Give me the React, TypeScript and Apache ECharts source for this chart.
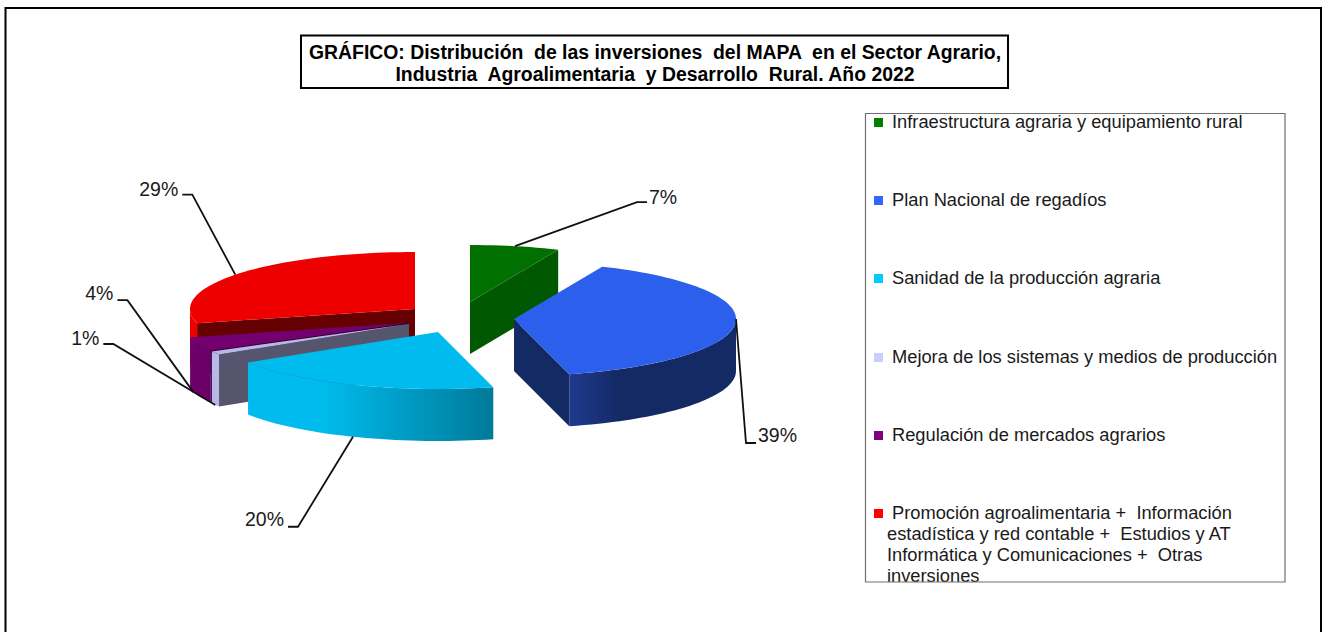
import React, { useEffect, useRef } from "react";
import * as echarts from "echarts";

const FONT = "'Liberation Sans', Arial, sans-serif";

const categories = [
  "Infraestructura agraria y equipamiento rural",
  "Plan Nacional de regadíos",
  "Sanidad de la producción agraria",
  "Mejora de los sistemas y medios de producción",
  "Regulación de mercados agrarios",
  "Promoción agroalimentaria +  Información\nestadística y red contable +  Estudios y AT\nInformática y Comunicaciones +  Otras\ninversiones",
];
const values = [6.5, 39.49, 20, 1, 4, 29];
const titleLines = [
  "GRÁFICO: Distribución  de las inversiones  del MAPA  en el Sector Agrario,",
  "Industria  Agroalimentaria  y Desarrollo  Rural. Año 2022",
];

const topColors = ["#007000", "#2c5fec", "#00bcee", "#b8b8e8", "#740070", "#ee0000"];
const legendColors = ["#008000", "#3366ff", "#00ccff", "#ccccff", "#800080", "#ff0000"];
const radialColors = ["#005800", "#142a64", "#0090b0", "#55556e", "#2a0038", "#660000"];
const sideLight = ["#005800", "#1e3a8e", "#00bcee", "#b8b8e8", "#700070", "#ee0000"];
const sideDark = ["#005800", "#142a64", "#007a9a", "#b8b8e8", "#6a0068", "#ee0000"];
const sideStops = [0.5, 0.3, 0.3, 0.5, 0.5, 0.5];

// pie geometry: centre of the pie, ellipse radii, thickness, explosion of each slice
const CX = 440;
const CY = 315;
const RX_RIGHT = 222;
const RX_LEFT = 225;
const RY = 57;
const DEPTH = 52;
const explode = [
  [30, -13],
  [74, 4],
  [-2, 17],
  [-31, 9],
  [-32, 8],
  [-25, -6],
];
// where each leader leaves the slice (degrees) and where it bends (relative to that point)
const leaderAngle = [11.7, 90, 202.2, 239.4, 252.5, 307];
const leaderDrop = [0, 0, DEPTH, DEPTH, DEPTH, 0];
const leaderBend = [
  [122, -44],
  [10, 124],
  [-55, 90],
  [-102, -61],
  [-66, -92],
  [-43, -80],
];
const leaderDir = [1, 1, -1, -1, -1, -1];
const labelLift = [5, 8, 8, 6, 7, 6];

const rad = (d: number) => (d * Math.PI) / 180;
const rim = (ax: number, ay: number, deg: number): number[] => {
  const s = Math.sin(rad(deg));
  return [ax + (s > 0 ? RX_RIGHT : RX_LEFT) * s, ay - RY * Math.cos(rad(deg))];
};
const arcPts = (ax: number, ay: number, a: number, b: number): number[][] => {
  const n = Math.max(2, Math.ceil(Math.abs(b - a) / 2));
  const out: number[][] = [];
  for (let i = 0; i <= n; i++) out.push(rim(ax, ay, a + ((b - a) * i) / n));
  return out;
};

export default function App() {
  const ref = useRef<HTMLDivElement>(null);
  useEffect(() => {
    const chart = echarts.init(ref.current!, undefined, { renderer: "svg" });
    const total = values.reduce((s, v) => s + v, 0);
    const starts: number[] = [];
    let acc = 0;
    values.forEach((v) => {
      starts.push((acc / total) * 360);
      acc += v;
    });
    const order = [0, 1, 5, 4, 3, 2];

    const renderItem = (_params: any, api: any) => {
      const i = order[api.value(0)];
      const a0 = starts[i];
      const a1 = a0 + (values[i] / total) * 360;
      const ax = CX + explode[i][0];
      const ay = CY + explode[i][1];
      const children: any[] = [];
      const poly = (points: number[][], fill: any) =>
        children.push({ type: "polygon", shape: { points }, style: { fill, stroke: "none" }, silent: true });
      const radial = (deg: number) => {
        const p = rim(ax, ay, deg);
        poly([[ax, ay], p, [p[0], p[1] + DEPTH], [ax, ay + DEPTH]], radialColors[i]);
      };
      if (Math.sin(rad(a0)) < -1e-6) radial(a0);
      if (Math.sin(rad(a1)) > 1e-6 && a1 < 359.9) radial(a1);
      const f0 = Math.max(a0, 90);
      const f1 = Math.min(a1, 270);
      if (f1 > f0) {
        const top = arcPts(ax, ay, f0, f1);
        const bot = top.map((p) => [p[0], p[1] + DEPTH]).reverse();
        const fill = new echarts.graphic.LinearGradient(
          0, 0, 1, 0,
          i === 2
            ? [
                { offset: 0, color: sideLight[i] },
                { offset: sideStops[i], color: sideLight[i] },
                { offset: 1, color: sideDark[i] },
              ]
            : [
                { offset: 0, color: sideLight[i] },
                { offset: sideStops[i], color: sideDark[i] },
                { offset: 1, color: sideDark[i] },
              ],
        );
        poly([...top, ...bot], fill);
      }
      poly([[ax, ay], ...arcPts(ax, ay, a0, a1)], topColors[i]);
      return { type: "group", children };
    };

    const renderLabels = (_params: any, api: any) => {
      const i = api.value(0);
      const ax = CX + explode[i][0];
      const ay = CY + explode[i][1];
      const p = rim(ax, ay, leaderAngle[i]);
      const sy = p[1] + leaderDrop[i];
      const bx = p[0] + leaderBend[i][0];
      const by = sy + leaderBend[i][1];
      const dir = leaderDir[i];
      const ex = bx + dir * 10;
      return {
        type: "group",
        children: [
          {
            type: "polyline",
            shape: { points: [[p[0], sy], [bx, by], [ex, by]] },
            style: { stroke: "#111", lineWidth: 1.8, fill: "none" },
            silent: true,
          },
          {
            type: "text",
            x: ex + dir * (dir > 0 ? 2 : 4),
            y: by - labelLift[i],
            style: {
              text: `${Math.round(values[i])}%`,
              font: `19.5px ${FONT}`,
              fill: "#1a1a1a",
              align: dir > 0 ? "left" : "right",
              verticalAlign: "middle",
            },
            silent: true,
          },
        ],
      };
    };

    const legendTop = [122, 200, 278, 357, 435, 513];
    const legendGraphics: any[] = [];
    categories.forEach((name, i) => {
      legendGraphics.push({
        type: "rect",
        shape: { x: 874, y: legendTop[i] - 4, width: 9, height: 9 },
        style: { fill: legendColors[i] },
        silent: true,
      });
      name.split("\n").forEach((line, k) => {
        legendGraphics.push({
          type: "text",
          x: k === 0 ? 892 : 887,
          y: legendTop[i] - 1 + k * 21,
          style: { text: line, font: `18.3px ${FONT}`, fill: "#1a1a1a", verticalAlign: "middle" },
          silent: true,
        });
      });
    });

    chart.setOption({
      animation: false,
      backgroundColor: "#fff",
      series: [
        {
          type: "custom",
          coordinateSystem: "none",
          renderItem,
          data: order.map((_, k) => [k]),
          silent: true,
          z: 2,
        },
        {
          type: "custom",
          coordinateSystem: "none",
          renderItem: renderLabels,
          data: values.map((_, k) => [k]),
          silent: true,
          z: 3,
        },
      ],
      graphic: [
        {
          type: "rect",
          z: 0,
          shape: { x: 5.5, y: 8, width: 1315.5, height: 640 },
          style: { fill: "#fff", stroke: "#000", lineWidth: 2 },
          silent: true,
        },
        {
          type: "rect",
          z: 5,
          shape: { x: 301, y: 35.5, width: 707, height: 52.5 },
          style: { fill: "#fff", stroke: "#000", lineWidth: 2 },
          silent: true,
        },
        {
          type: "text",
          z: 6,
          x: 655,
          y: 52,
          style: { text: titleLines[0], font: `bold 19.4px ${FONT}`, fill: "#000", align: "center", verticalAlign: "middle" },
          silent: true,
        },
        {
          type: "text",
          z: 6,
          x: 655,
          y: 74,
          style: { text: titleLines[1], font: `bold 19.4px ${FONT}`, fill: "#000", align: "center", verticalAlign: "middle" },
          silent: true,
        },
        { type: "group", z: 6, children: legendGraphics },
        {
          type: "rect",
          z: 7,
          shape: { x: 865.5, y: 113.5, width: 419.5, height: 468.5 },
          style: { fill: "none", stroke: "#707070", lineWidth: 1.2 },
          silent: true,
        },
      ],
    });
    return () => chart.dispose();
  }, []);
  return <div ref={ref} style={{ position: "absolute", left: 0, top: 0, width: 1323, height: 632 }} />;
}
